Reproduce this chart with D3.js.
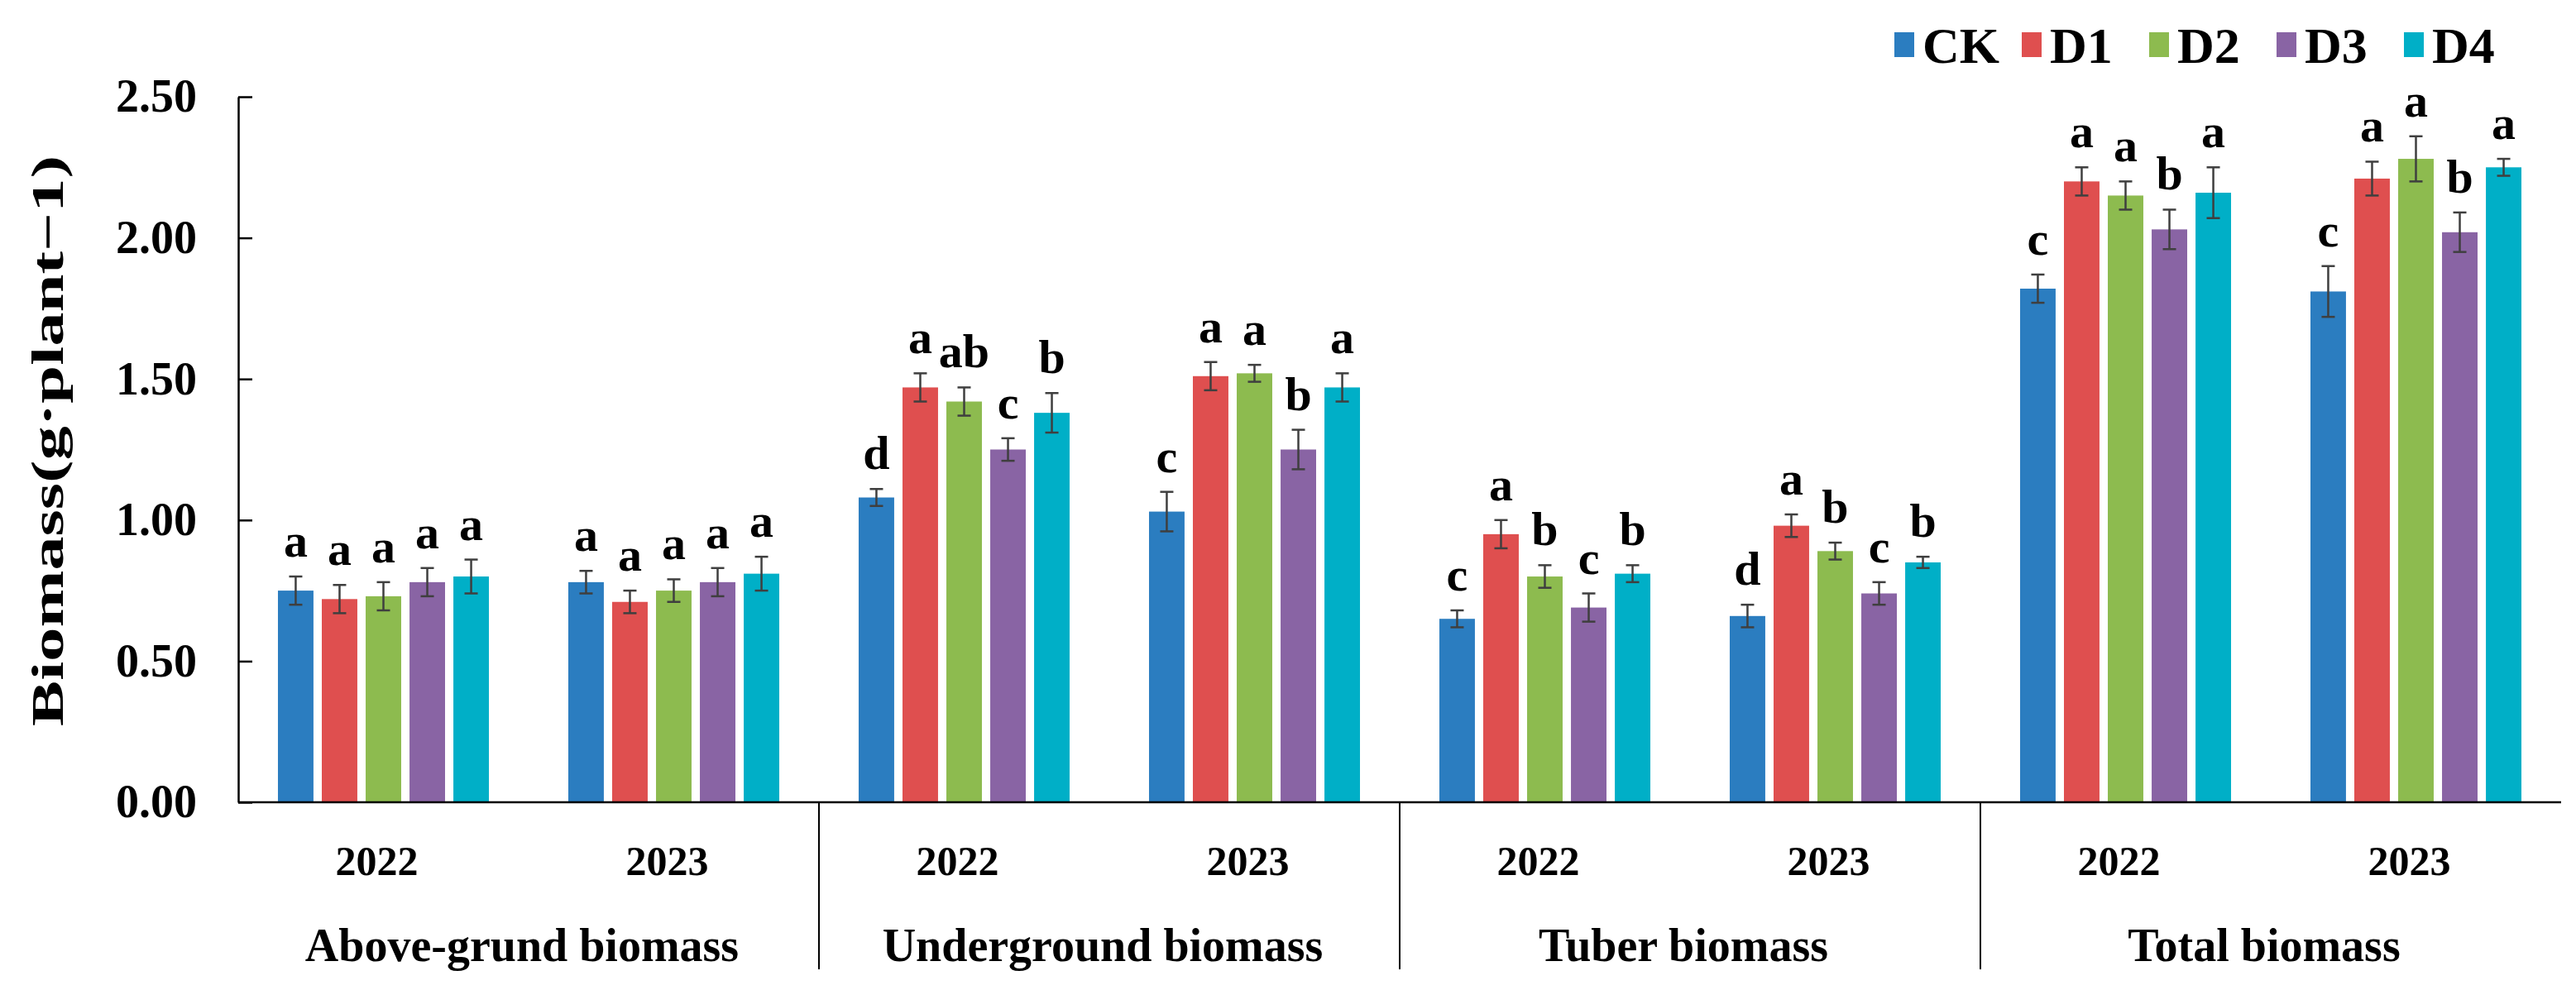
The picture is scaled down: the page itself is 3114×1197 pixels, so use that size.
<!DOCTYPE html>
<meta charset="utf-8">
<style>
  body { margin: 0; background: #fff; }
  text { font-family: "Liberation Serif", "Times New Roman", serif; font-weight: bold; fill: #000; }
</style>

<script src="https://d3js.org/d3.v7.min.js"></script>

<div id="chart"></div>

<script>
// data
var groups = ["Above-grund biomass", "Underground biomass", "Tuber biomass", "Total biomass"];
var years = ["2022", "2023"];
var series = ["CK", "D1", "D2", "D3", "D4"];
var colors = ["#2b7dc0", "#df4f4f", "#8dbb4f", "#8964a4", "#00afc7"];
var yTicks = [0, 0.5, 1.0, 1.5, 2.0, 2.5];

// one value per group-year, in order: AG22, AG23, UG22, UG23, TU22, TU23, TO22, TO23
var valCK = [0.75, 0.78, 1.08, 1.03, 0.65, 0.66, 1.82, 1.81];
var valD1 = [0.72, 0.71, 1.47, 1.51, 0.95, 0.98, 2.20, 2.21];
var valD2 = [0.73, 0.75, 1.42, 1.52, 0.80, 0.89, 2.15, 2.28];
var valD3 = [0.78, 0.78, 1.25, 1.25, 0.69, 0.74, 2.03, 2.02];
var valD4 = [0.80, 0.81, 1.38, 1.47, 0.81, 0.85, 2.16, 2.25];

var errCK = [0.05, 0.04, 0.03, 0.07, 0.03, 0.04, 0.05, 0.09];
var errD1 = [0.05, 0.04, 0.05, 0.05, 0.05, 0.04, 0.05, 0.06];
var errD2 = [0.05, 0.04, 0.05, 0.03, 0.04, 0.03, 0.05, 0.08];
var errD3 = [0.05, 0.05, 0.04, 0.07, 0.05, 0.04, 0.07, 0.07];
var errD4 = [0.06, 0.06, 0.07, 0.05, 0.03, 0.02, 0.09, 0.03];

var letCK = ["a", "a", "d", "c", "c", "d", "c", "c"];
var letD1 = ["a", "a", "a", "a", "a", "a", "a", "a"];
var letD2 = ["a", "a", "ab", "a", "b", "b", "a", "a"];
var letD3 = ["a", "a", "c", "b", "c", "c", "b", "b"];
var letD4 = ["a", "a", "b", "a", "b", "b", "a", "a"];

var values = [valCK, valD1, valD2, valD3, valD4];
var errors = [errCK, errD1, errD2, errD3, errD4];
var letters = [letCK, letD1, letD2, letD3, letD4];

// layout
var W = 3114, H = 1197;
var mLeft = 288, mRight = 3096, mTop = 117, mBottom = 970;

var svg = d3.select("#chart")
    .append("svg")
    .attr("width", W)
    .attr("height", H);

var cats = [];
groups.forEach(function(g) {
    years.forEach(function(yr) { cats.push(g + "|" + yr); });
});

var x = d3.scaleBand().domain(cats).range([mLeft, mRight]);
var xs = d3.scaleBand().domain(series).range([0, x.bandwidth()])
    .paddingInner(0.19).paddingOuter(0.905);
var y = d3.scaleLinear().domain([0, 2.5]).range([mBottom, mTop]);

// rows of data for the bars
var rows = [];
series.forEach(function(s, i) {
    cats.forEach(function(c, j) {
        rows.push({ s: s, i: i, c: c, v: values[i][j], e: errors[i][j], l: letters[i][j] });
    });
});

// bars
svg.selectAll("rect.bar")
    .data(rows)
    .enter()
    .append("rect")
    .attr("class", "bar")
    .attr("x", function(d) { return x(d.c) + xs(d.s); })
    .attr("y", function(d) { return y(d.v); })
    .attr("width", xs.bandwidth())
    .attr("height", function(d) { return y(0) - y(d.v); })
    .attr("fill", function(d) { return colors[d.i]; });

// error bars
var eb = svg.append("g").attr("stroke", "#3f3f3f").attr("stroke-width", 2.5);
var cap = 8;
rows.forEach(function(d) {
    var cx = x(d.c) + xs(d.s) + xs.bandwidth() / 2;
    eb.append("line").attr("x1", cx).attr("x2", cx).attr("y1", y(d.v - d.e)).attr("y2", y(d.v + d.e));
    eb.append("line").attr("x1", cx - cap).attr("x2", cx + cap).attr("y1", y(d.v + d.e)).attr("y2", y(d.v + d.e));
    eb.append("line").attr("x1", cx - cap).attr("x2", cx + cap).attr("y1", y(d.v - d.e)).attr("y2", y(d.v - d.e));
});

// significance letters
svg.selectAll("text.sig")
    .data(rows)
    .enter()
    .append("text")
    .attr("class", "sig")
    .attr("x", function(d) { return x(d.c) + xs(d.s) + xs.bandwidth() / 2; })
    .attr("y", function(d) { return y(d.v + d.e) - 24; })
    .attr("text-anchor", "middle")
    .attr("font-size", 58)
    .text(function(d) { return d.l; });

// y axis
var yAxis = svg.append("g")
    .attr("transform", "translate(" + mLeft + ",0)")
    .call(d3.axisLeft(y).tickValues(yTicks).tickFormat(d3.format(".2f"))
        .tickSize(-17).tickSizeOuter(0).tickPadding(50));
yAxis.select(".domain").attr("stroke", "#000").attr("stroke-width", 2.5);
yAxis.selectAll(".tick line").attr("stroke", "#000").attr("stroke-width", 2.5);
yAxis.selectAll(".tick text")
    .attr("font-size", 56)
    .attr("font-family", "Liberation Serif")
    .attr("font-weight", "bold")
    .attr("fill", "#000");

// x axis line and group separators
svg.append("line")
    .attr("x1", mLeft).attr("x2", mRight)
    .attr("y1", mBottom).attr("y2", mBottom)
    .attr("stroke", "#000").attr("stroke-width", 2.5);

for (var g = 1; g < groups.length; g++) {
    var sx = x(cats[g * years.length]);
    svg.append("line")
        .attr("x1", sx).attr("x2", sx)
        .attr("y1", mBottom).attr("y2", 1172)
        .attr("stroke", "#000").attr("stroke-width", 2);
}

// year labels
svg.selectAll("text.year")
    .data(cats)
    .enter()
    .append("text")
    .attr("class", "year")
    .attr("x", function(c) { return x(c) + x.bandwidth() / 2 - 8; })
    .attr("y", 1058)
    .attr("text-anchor", "middle")
    .attr("font-size", 50)
    .text(function(c) { return c.split("|")[1]; });

// group labels
svg.selectAll("text.group")
    .data(groups)
    .enter()
    .append("text")
    .attr("class", "group")
    .attr("x", function(g) { return x(g + "|" + years[0]) + x.bandwidth() - 8; })
    .attr("y", 1162)
    .attr("text-anchor", "middle")
    .attr("font-size", 56)
    .text(function(g) { return g; });

// y title
svg.append("text")
    .attr("transform", "translate(76,533) rotate(-90)")
    .attr("text-anchor", "middle")
    .attr("font-size", 54)
    .attr("textLength", 690)
    .attr("lengthAdjust", "spacingAndGlyphs")
    .text("Biomass(g·plant−1)");

// legend
var lx = d3.scaleBand().domain(series).range([2290, 3060]);
var leg = svg.selectAll("g.leg")
    .data(series)
    .enter()
    .append("g")
    .attr("class", "leg")
    .attr("transform", function(s) { return "translate(" + lx(s) + ",54)"; });
leg.append("rect")
    .attr("x", 0).attr("y", -15)
    .attr("width", 24).attr("height", 30)
    .attr("fill", function(s, i) { return colors[i]; });
leg.append("text")
    .attr("x", 34).attr("y", 22)
    .attr("font-size", 62)
    .text(function(s) { return s; });
</script>
